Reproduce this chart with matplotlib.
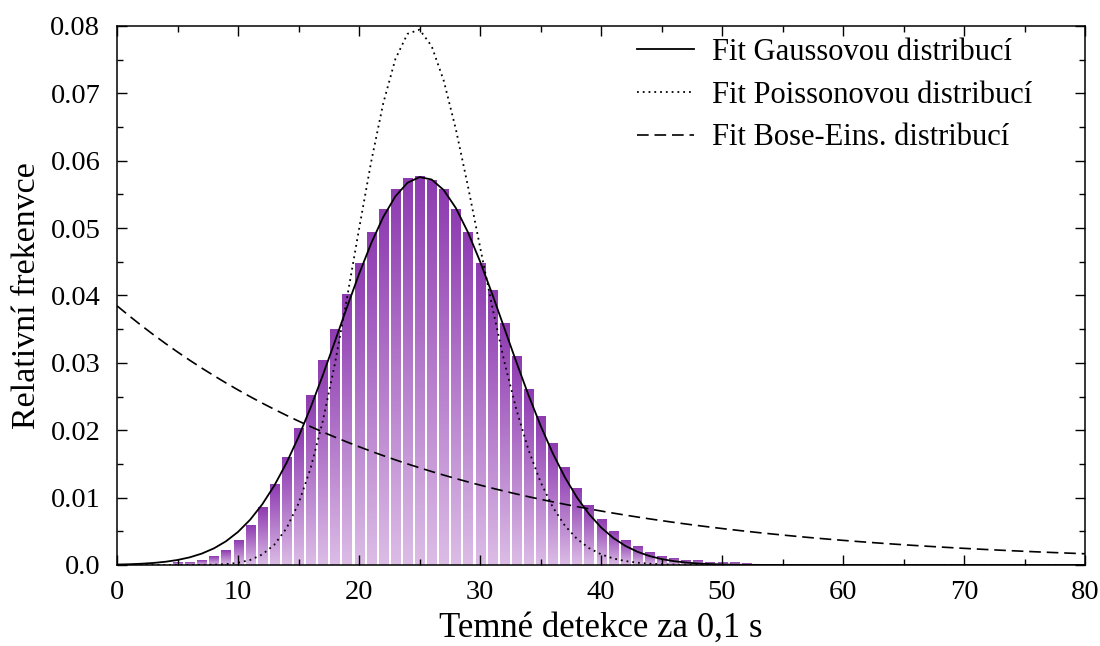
import math
import numpy as np
import matplotlib
matplotlib.use("Agg")
import matplotlib.pyplot as plt
from matplotlib.colors import LinearSegmentedColormap
from matplotlib.ticker import MultipleLocator

plt.rcParams['font.family'] = ['Liberation Serif', 'DejaVu Serif']

# histogram of dark counts per 0.1 s
counts = list(range(5, 53))
freq = [0.0003, 0.0003, 0.0006, 0.0012, 0.0021, 0.0036, 0.0058, 0.0085,
        0.0119, 0.0159, 0.0203, 0.0251, 0.0304, 0.0350, 0.0401, 0.0447,
        0.0494, 0.0527, 0.0558, 0.0573, 0.0577, 0.0570, 0.0558, 0.0528,
        0.0493, 0.0448, 0.0408, 0.0359, 0.0310, 0.0261, 0.0220, 0.0180,
        0.0145, 0.0113, 0.0089, 0.0067, 0.0049, 0.0036, 0.0027, 0.0019,
        0.0013, 0.0010, 0.0007, 0.0006, 0.0004, 0.00035, 0.0003, 0.0002]

# fit parameters
mean_n = 25.2
gauss_amp = 0.0576
gauss_sigma = 6.85
be_mean = 25.0

n = np.arange(0, 81)
gauss = gauss_amp * np.exp(-(n - mean_n) ** 2 / (2 * gauss_sigma ** 2))
poisson = np.array([math.exp(k * math.log(mean_n) - mean_n - math.lgamma(k + 1)) for k in n])
bose = be_mean ** n / (1 + be_mean) ** (n + 1.0)

fig = plt.figure(figsize=(11, 6.46), dpi=100)
ax = fig.add_axes([0.1064, 0.1254, 0.88, 0.8344])

cmap = LinearSegmentedColormap.from_list("bars", ["#dcbde6", "#8e3bb1"])
grad = np.linspace(0, 1, 256).reshape(-1, 1)
w = 0.75
for x, h in zip(counts, freq):
    ax.imshow(grad, extent=[x - w / 2, x + w / 2, 0, h], origin='lower',
              aspect='auto', cmap=cmap, zorder=1, interpolation='bilinear')

ax.plot(n, gauss, color='black', lw=1.3, label='Fit Gaussovou distribucí', zorder=3)
ax.plot(n, poisson, color='black', lw=1.3, linestyle=(0, (1, 2.2)),
        label='Fit Poissonovou distribucí', zorder=3)
ax.plot(n, bose, color='black', lw=1.2, linestyle=(0, (7, 3.5)),
        label='Fit Bose-Eins. distribucí', zorder=3)

ax.set_xlim(0, 80)
ax.set_ylim(0, 0.08)
ax.xaxis.set_major_locator(MultipleLocator(10))
ax.xaxis.set_minor_locator(MultipleLocator(5))
ax.yaxis.set_major_locator(MultipleLocator(0.01))
ax.yaxis.set_minor_locator(MultipleLocator(0.005))
ax.set_yticks(np.arange(0, 0.081, 0.01))
ax.set_yticklabels(["0.0"] + ["%.2f" % v for v in np.arange(0.01, 0.081, 0.01)])
ax.tick_params(which='both', direction='in', top=True, right=True, labelsize=20.5)
ax.tick_params(which='major', length=7, width=1)
ax.tick_params(which='minor', length=4, width=1)
ax.tick_params(axis='x', which='major', pad=10.5)
ax.tick_params(axis='y', which='major', pad=12)
for s in ax.spines.values():
    s.set_linewidth(1.1)

ax.set_xlabel("Temné detekce za 0,1 s", fontsize=25, labelpad=5)
ax.set_ylabel("Relativní frekenvce", fontsize=24.5, labelpad=6)

ax.legend(loc='upper right', bbox_to_anchor=(0.945, 0.978), frameon=False,
          fontsize=22, handlelength=1.86, handletextpad=0.59,
          labelspacing=0.45, borderpad=0, borderaxespad=0)

fig.savefig("out.png", dpi=100)
